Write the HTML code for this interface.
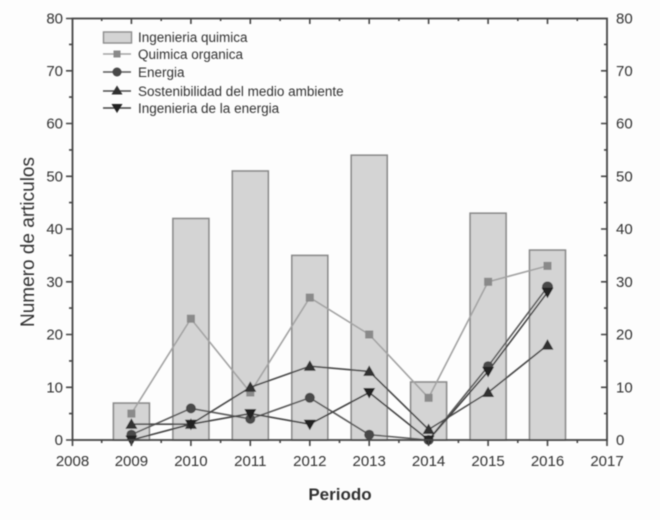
<!DOCTYPE html>
<html><head><meta charset="utf-8"><style>
html,body{margin:0;padding:0;background:#fdfdfd;}
svg{display:block;}
text{font-family:"Liberation Sans",Arial,sans-serif;fill:#333;}
</style></head><body>
<svg width="660" height="520" viewBox="0 0 660 520" xmlns="http://www.w3.org/2000/svg">
<defs><filter id="bl" x="0" y="0" width="1" height="1"><feGaussianBlur stdDeviation="0.45"/></filter></defs>
<rect width="660" height="520" fill="#fdfdfd"/>
<g filter="url(#bl)">
<!-- bars -->
<g fill="#d4d4d4" stroke="#8a8a8a" stroke-width="1.6">
<rect x="113.4" y="403.1" width="36" height="36.9"/>
<rect x="172.9" y="218.5" width="36" height="221.5"/>
<rect x="232.3" y="171.0" width="36" height="269"/>
<rect x="291.8" y="255.4" width="36" height="184.6"/>
<rect x="351.2" y="155.2" width="36" height="284.8"/>
<rect x="410.6" y="382.0" width="36" height="58"/>
<rect x="470.1" y="213.2" width="36" height="226.8"/>
<rect x="529.5" y="250.1" width="36" height="189.9"/>
</g>
<!-- lines -->
<g fill="none" stroke-width="1.6" stroke-linejoin="round">
<polyline stroke="#a3a3a3" points="131.4,413.6 190.9,318.7 250.3,392.5 309.8,297.6 369.2,334.5 428.6,397.8 488.1,281.8 547.5,265.9"/>
<polyline stroke="#5a5a5a" points="131.4,434.7 190.9,408.4 250.3,418.9 309.8,397.8 369.2,434.7 428.6,440 488.1,366.2 547.5,287.0"/>
<polyline stroke="#4a4a4a" points="131.4,424.2 190.9,424.2 250.3,387.3 309.8,366.2 369.2,371.4 428.6,429.5 488.1,392.5 547.5,345.1"/>
<polyline stroke="#444" points="131.4,440 190.9,424.2 250.3,413.6 309.8,424.2 369.2,392.5 428.6,440 488.1,371.4 547.5,292.3"/>
</g>
<!-- QO squares -->
<g fill="#8a8a8a">
<rect x="127.4" y="409.6" width="8" height="8"/>
<rect x="186.9" y="314.7" width="8" height="8"/>
<rect x="246.3" y="388.5" width="8" height="8"/>
<rect x="305.8" y="293.6" width="8" height="8"/>
<rect x="365.2" y="330.5" width="8" height="8"/>
<rect x="424.6" y="393.8" width="8" height="8"/>
<rect x="484.1" y="277.8" width="8" height="8"/>
<rect x="543.5" y="261.9" width="8" height="8"/>
</g>
<!-- Energia circles -->
<g fill="#4a4a4a">
<circle cx="131.4" cy="434.7" r="5"/>
<circle cx="190.9" cy="408.4" r="5"/>
<circle cx="250.3" cy="418.9" r="5"/>
<circle cx="309.8" cy="397.8" r="5"/>
<circle cx="369.2" cy="434.7" r="5"/>
<circle cx="428.6" cy="440" r="5"/>
<circle cx="488.1" cy="366.2" r="5"/>
<circle cx="547.5" cy="287.0" r="5.5"/>
</g>
<!-- Sost up triangles -->
<g fill="#333">
<polygon points="131.4,418.2 137.4,428.7 125.4,428.7"/>
<polygon points="190.9,418.2 196.9,428.7 184.9,428.7"/>
<polygon points="250.3,381.3 256.3,391.8 244.3,391.8"/>
<polygon points="309.8,360.2 315.8,370.7 303.8,370.7"/>
<polygon points="369.2,365.4 375.2,375.9 363.2,375.9"/>
<polygon points="428.6,423.5 434.6,434 422.6,434"/>
<polygon points="488.1,386.5 494.1,397 482.1,397"/>
<polygon points="547.5,339.1 553.5,349.6 541.5,349.6"/>
</g>
<!-- IE down triangles -->
<g fill="#222">
<polygon points="125.4,435.5 137.4,435.5 131.4,446"/>
<polygon points="184.9,419.7 196.9,419.7 190.9,430.2"/>
<polygon points="244.3,409.1 256.3,409.1 250.3,419.6"/>
<polygon points="303.8,419.7 315.8,419.7 309.8,430.2"/>
<polygon points="363.2,388 375.2,388 369.2,398.5"/>
<polygon points="422.6,435.5 434.6,435.5 428.6,446"/>
<polygon points="482.1,366.9 494.1,366.9 488.1,377.4"/>
<polygon points="541.5,287.8 553.5,287.8 547.5,298.3"/>
</g>
<!-- axes frame -->
<rect x="72.5" y="18.5" width="534.5" height="421.5" fill="none" stroke="#444" stroke-width="1.8"/>
<g stroke="#444" stroke-width="1.6">
<path d="M66,440H72M66,387.3H72M66,334.5H72M66,281.8H72M66,229H72M66,176.3H72M66,123.5H72M66,70.8H72M66,18.5H72"/>
<path d="M69,413.6H72M69,360.9H72M69,308.1H72M69,255.4H72M69,202.6H72M69,149.9H72M69,97.1H72M69,44.4H72"/>
<path d="M601,387.3H607M601,334.5H607M601,281.8H607M601,229H607M601,176.3H607M601,123.5H607M601,70.8H607"/>
<path d="M604,413.6H607M604,360.9H607M604,308.1H607M604,255.4H607M604,202.6H607M604,149.9H607M604,97.1H607M604,44.4H607"/>
<path d="M72.5,440V446M131.4,440V446M190.9,440V446M250.3,440V446M309.8,440V446M369.2,440V446M428.6,440V446M488.1,440V446M547.5,440V446M607,440V446"/>
<path d="M101.7,440V443M161.2,440V443M220.6,440V443M280.1,440V443M339.5,440V443M398.9,440V443M458.4,440V443M517.8,440V443M577.3,440V443"/>
<path d="M131.4,18V24M190.9,18V24M250.3,18V24M309.8,18V24M369.2,18V24M428.6,18V24M488.1,18V24M547.5,18V24"/>
<path d="M101.7,18V21M161.2,18V21M220.6,18V21M280.1,18V21M339.5,18V21M398.9,18V21M458.4,18V21M517.8,18V21M577.3,18V21"/>
</g>
<!-- left labels -->
<g font-size="15" text-anchor="end">
<text x="63" y="445">0</text>
<text x="63" y="392.3">10</text>
<text x="63" y="339.5">20</text>
<text x="63" y="286.8">30</text>
<text x="63" y="234">40</text>
<text x="63" y="181.3">50</text>
<text x="63" y="128.5">60</text>
<text x="63" y="75.8">70</text>
<text x="63" y="23.5">80</text>
</g>
<g font-size="15" text-anchor="start">
<text x="616" y="445">0</text>
<text x="616" y="392.3">10</text>
<text x="616" y="339.5">20</text>
<text x="616" y="286.8">30</text>
<text x="616" y="234">40</text>
<text x="616" y="181.3">50</text>
<text x="616" y="128.5">60</text>
<text x="616" y="75.8">70</text>
<text x="616" y="23.5">80</text>
</g>
<g font-size="15" text-anchor="middle">
<text x="72.5" y="466">2008</text>
<text x="131.4" y="466">2009</text>
<text x="190.9" y="466">2010</text>
<text x="250.3" y="466">2011</text>
<text x="309.8" y="466">2012</text>
<text x="369.2" y="466">2013</text>
<text x="428.6" y="466">2014</text>
<text x="488.1" y="466">2015</text>
<text x="547.5" y="466">2016</text>
<text x="607" y="466">2017</text>
</g>
<text x="340" y="500" font-size="17" font-weight="bold" text-anchor="middle" fill="#222">Periodo</text>
<text transform="translate(34,242) rotate(-90)" font-size="19" text-anchor="middle" fill="#222">Numero de articulos</text>
<!-- legend -->
<rect x="103.5" y="32" width="28" height="11" fill="#d4d4d4" stroke="#8a8a8a" stroke-width="1.4"/>
<g stroke-width="1.5">
<line x1="103" y1="54" x2="131" y2="54" stroke="#a3a3a3"/>
<rect x="113.5" y="50.5" width="7" height="7" fill="#8a8a8a"/>
<line x1="103" y1="72" x2="131" y2="72" stroke="#5a5a5a"/>
<circle cx="117" cy="72" r="4.5" fill="#4a4a4a"/>
<line x1="103" y1="91" x2="131" y2="91" stroke="#4a4a4a"/>
<polygon points="117,85.5 122.5,94.5 111.5,94.5" fill="#333"/>
<line x1="103" y1="108" x2="131" y2="108" stroke="#444"/>
<polygon points="111.5,104 122.5,104 117,113" fill="#222"/>
</g>
<g font-size="13.5" fill="#444">
<text x="138" y="42">Ingenieria quimica</text>
<text x="138" y="59">Quimica organica</text>
<text x="138" y="77">Energia</text>
<text x="138" y="96">Sostenibilidad del medio ambiente</text>
<text x="138" y="113">Ingenieria de la energia</text>
</g>
</g>
</svg>
</body></html>
